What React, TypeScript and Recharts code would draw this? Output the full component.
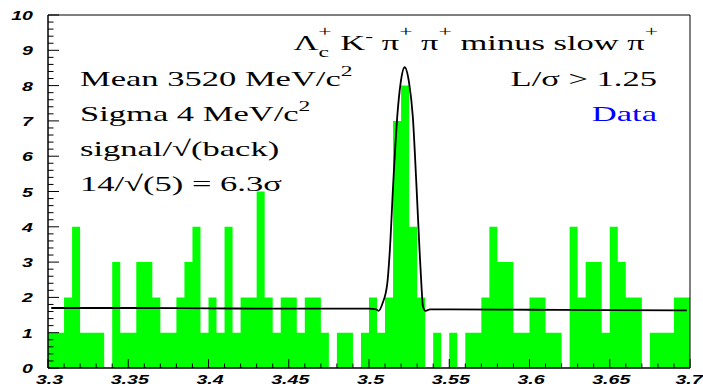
import React from 'react'
import {
  Area,
  ComposedChart,
  Line,
  ReferenceArea,
  XAxis,
  YAxis,
} from 'recharts'

// histogram: 80 bins of 5 MeV from 3.3 to 3.7 GeV
const BIN_START = 3.3
const BIN_WIDTH = 0.005
const BIN_COUNTS = [
  1, 1, 2, 4, 1, 1, 1, 0, 3, 1,
  1, 3, 3, 2, 1, 1, 2, 3, 4, 1,
  2, 1, 4, 1, 2, 2, 5, 2, 1, 2,
  2, 1, 2, 2, 1, 0, 1, 1, 0, 1,
  2, 1, 2, 7, 8, 4, 2, 0, 1, 0,
  1, 0, 1, 1, 2, 4, 3, 3, 1, 1,
  2, 2, 1, 1, 0, 4, 2, 3, 3, 1,
  4, 3, 2, 2, 0, 1, 1, 1, 2, 2,
]

// fit curve
const FIT_X = [
  3.302, 3.35, 3.4, 3.45, 3.5, 3.5045, 3.506, 3.5085, 3.5114, 3.513, 3.5151,
  3.5176, 3.5197, 3.5222, 3.525, 3.5273, 3.5295, 3.5315, 3.5326, 3.5336,
  3.5353, 3.538, 3.55, 3.6, 3.65, 3.698,
]
const FIT_Y = [
  1.7, 1.7, 1.69, 1.68, 1.68, 1.66, 1.62, 1.84, 2.4, 3.34, 5.23,
  7.12, 8.07, 8.52, 8.07, 7.12, 5.23, 3.34, 2.4, 1.75,
  1.62, 1.66, 1.66, 1.65, 1.64, 1.63,
]

const X_MAJOR = [3.3, 3.35, 3.4, 3.45, 3.5, 3.55, 3.6, 3.65, 3.7]
const X_LABELS = ['3.3', '3.35', '3.4', '3.45', '3.5', '3.55', '3.6', '3.65', '3.7']
const Y_MAJOR = [0, 1, 2, 3, 4, 5, 6, 7, 8, 9, 10]
const Y_LABELS = ['0', '1', '2', '3', '4', '5', '6', '7', '8', '9', '10']

const X_MINOR_STEP = 0.01
const Y_MINOR_STEP = 0.2

const xTicks: number[] = []
for (let k = 0; k <= 40; k++) xTicks.push(Number((3.3 + k * X_MINOR_STEP).toFixed(3)))
const yTicks: number[] = []
for (let k = 0; k <= 50; k++) yTicks.push(Number((k * Y_MINOR_STEP).toFixed(2)))

const histData = BIN_COUNTS.map((v, i) => ({ x: Number((BIN_START + i * BIN_WIDTH).toFixed(3)), v }))
histData.push({ x: 3.7, v: BIN_COUNTS[BIN_COUNTS.length - 1] })
const fitData = FIT_X.map((x, i) => ({ x, y: FIT_Y[i] }))

const W = 703
const H = 389
const SX = 1.57 // the picture is stretched sideways
const AX_SX = 1.45
const SERIF = '"Liberation Serif", "Times New Roman", serif'
const SANS = '"Liberation Sans", Arial, sans-serif'

function labelFor(v: number, major: number[], labels: string[]) {
  const i = major.findIndex((m) => Math.abs(m - v) < 1e-6)
  return i < 0 ? null : labels[i]
}

function XTick(props: any) {
  const { x, y, payload } = props
  const label = labelFor(payload.value, X_MAJOR, X_LABELS)
  // keep the last label inside the page
  const lx = label === '3.7' ? x - 1 : x + 1.5
  return (
    <g>
      <line x1={x} x2={x} y1={y} y2={y - (label ? 9 : 4.5)} stroke="#000" strokeWidth={1} />
      {label && (
        <text
          transform={`translate(${lx},${y + 16}) scale(${AX_SX},1)`}
          textAnchor="middle"
          fontFamily={SANS}
          fontWeight="bold"
          fontStyle="italic"
          fontSize={13.5}
          fill="#000"
        >
          {label}
        </text>
      )}
    </g>
  )
}

function YTick(props: any) {
  const { x, y, payload } = props
  const label = labelFor(payload.value, Y_MAJOR, Y_LABELS)
  return (
    <g>
      <line x1={x} x2={x + (label ? 11 : 5.5)} y1={y} y2={y} stroke="#000" strokeWidth={1} />
      {label && (
        <text
          transform={`translate(${x - 15},${y + 5}) scale(${AX_SX},1)`}
          textAnchor="end"
          fontFamily={SANS}
          fontWeight="bold"
          fontStyle="italic"
          fontSize={13.5}
          fill="#000"
        >
          {label}
        </text>
      )}
    </g>
  )
}

function Stretched({ x, y, anchor = 'start', fill = '#000', children }: any) {
  return (
    <text
      transform={`translate(${x},${y}) scale(${SX},1)`}
      textAnchor={anchor}
      fontFamily={SERIF}
      fontSize={22}
      fill={fill}
    >
      {children}
    </text>
  )
}

function Annotations() {
  return (
    <svg width={W} height={H} style={{ position: 'absolute', left: 0, top: 0, pointerEvents: 'none' }}>
      <Stretched x={658} y={50} anchor="end">
        <tspan>Λ</tspan>
        <tspan dy={6.7} fontSize={15}>c</tspan>
        <tspan dx={-6.7} dy={-20.5} fontSize={15}>+</tspan>
        <tspan dy={13.8}> K</tspan>
        <tspan dy={-9} fontSize={15}>-</tspan>
        <tspan dy={9}> π</tspan>
        <tspan dy={-14} fontSize={15}>+</tspan>
        <tspan dy={14}> π</tspan>
        <tspan dy={-14} fontSize={15}>+</tspan>
        <tspan dy={14}> minus slow π</tspan>
        <tspan dy={-14} fontSize={15}>+</tspan>
      </Stretched>
      <Stretched x={657} y={86} anchor="end">L/σ &gt; 1.25</Stretched>
      <Stretched x={657} y={121} anchor="end" fill="#0000ff">Data</Stretched>

      <Stretched x={80} y={86}>
        <tspan>Mean 3520 MeV/c</tspan>
        <tspan dy={-10} fontSize={15}>2</tspan>
      </Stretched>
      <Stretched x={80} y={121}>
        <tspan>Sigma 4 MeV/c</tspan>
        <tspan dy={-10} fontSize={15}>2</tspan>
      </Stretched>
      <Stretched x={80} y={156}>signal/√(back)</Stretched>
      <Stretched x={80} y={191}>14/√(5) = 6.3σ</Stretched>
    </svg>
  )
}

export default function App() {
  return (
    <div style={{ position: 'absolute', left: 0, top: 0, width: W, height: H, background: '#fff' }}>
      <ComposedChart width={W} height={H} margin={{ top: 15, right: 13, left: 0, bottom: 0 }}>
        <XAxis
          type="number"
          dataKey="x"
          domain={[3.3, 3.7]}
          ticks={xTicks}
          interval={0}
          allowDataOverflow
          height={21}
          tickSize={0}
          tickMargin={0}
          tickLine={false}
          axisLine={{ stroke: '#000', strokeWidth: 1 }}
          tick={(p: any) => <XTick {...p} />}
        />
        <YAxis
          type="number"
          domain={[0, 10]}
          ticks={yTicks}
          interval={0}
          allowDataOverflow
          width={48}
          tickSize={0}
          tickMargin={0}
          tickLine={false}
          axisLine={{ stroke: '#000', strokeWidth: 1 }}
          tick={(p: any) => <YTick {...p} />}
        />
        <Area
          data={histData}
          dataKey="v"
          type="stepAfter"
          fill="#00ff00"
          fillOpacity={1}
          stroke="none"
          isAnimationActive={false}
        />
        <Line
          data={fitData}
          dataKey="y"
          type="monotone"
          stroke="#000"
          strokeWidth={1.8}
          dot={false}
          isAnimationActive={false}
        />
        <ReferenceArea x1={3.3} x2={3.7} y1={0} y2={10} fill="none" stroke="#000" strokeWidth={1} />
      </ComposedChart>
      <Annotations />
    </div>
  )
}
